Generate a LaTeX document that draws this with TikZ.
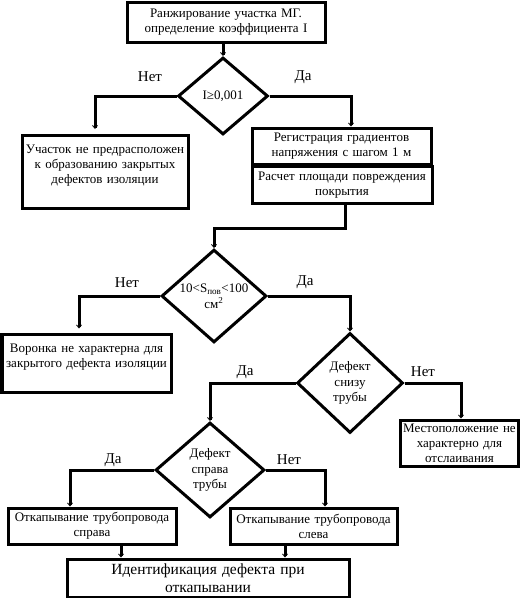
\documentclass[tikz,border=0pt]{standalone}
\usepackage{fontspec}
\setmainfont{Liberation Serif}
\usetikzlibrary{shapes, arrows.meta, calc, positioning}
\usetikzlibrary{shapes.geometric}

\begin{document}
\begin{tikzpicture}[x=1pt, y=-1pt, line width=3pt,
    blk/.style = {draw, rectangle, align=center, inner sep=1pt, font=\fontsize{13}{15}\selectfont},
    dec/.style = {draw, diamond, align=center, inner sep=0pt, font=\fontsize{13}{15.5}\selectfont},
    ans/.style = {font=\fontsize{15}{17}\selectfont},
    arr/.style = {-{Straight Barb[length=3pt,width=5pt,line width=0.8pt]}}]
    \useasboundingbox (0,0) rectangle (520,598);
    \node[blk, text width=196pt, minimum height=40pt] (B1) at (226,22) {Ранжирование участка МГ.\\ определение коэффициента I};
    \node[dec, minimum width=90pt, minimum height=77pt] (D1) at (223,96) {I≥0,001};
    \node[blk, text width=164pt, minimum height=73pt] (B2) at (105,172) {Участок не предрасположен\\ к образованию закрытых\\ дефектов изоляции\\ \mbox{}};
    \node[blk, text width=177pt, minimum height=36pt] (B3) at (341.5,146) {Регистрация градиентов\\ напряжения с шагом 1 м};
    \node[blk, text width=178pt, minimum height=37pt] (B4) at (342,185) {Расчет площади повреждения\\ покрытия};
    \node[dec, minimum width=105pt, minimum height=85pt] (D2) at (214,296) {10<S\textsubscript{пов}<100\\ см\textsuperscript{2}};
    \node[blk, text width=167pt, minimum height=58pt] (B5) at (86.5,363) {Воронка не характерна для\\ закрытого дефекта изоляции\\ \mbox{}};
    \node[dec, minimum width=106pt, minimum height=100pt] (D3) at (350,383) {Дефект\\ снизу\\ трубы};
    \node[blk, text width=116pt, minimum height=46pt] (B6) at (459.5,443) {Местоположение не\\ характерно для\\ отслаивания};
    \node[dec, minimum width=109pt, minimum height=95pt] (D4) at (210,470) {Дефект\\ справа\\ трубы};
    \node[blk, text width=166pt, minimum height=36pt] (B7) at (92,526) {Откапывание трубопровода\\ справа};
    \node[blk, text width=165pt, minimum height=36pt] (B8) at (313.5,526) {Откапывание трубопровода\\ слева};
    \node[blk, text width=280pt, minimum height=38pt, font=\fontsize{15.5}{18}\selectfont] (B9) at (208,578) {Идентификация дефекта при\\ откапывании};

    \node[ans] (L1) at (150,77) {Нет};
    \node[ans] (L2) at (303,77) {Да};
    \node[ans] (L3) at (127,283) {Нет};
    \node[ans] (L4) at (305,282) {Да};
    \node[ans] (L5) at (245,372) {Да};
    \node[ans] (L6) at (423,372) {Нет};
    \node[ans] (L7) at (113,460) {Да};
    \node[ans] (L8) at (289,460) {Нет};

    \draw[arr] (D1.north |- B1.south) -- (D1.north);
    \draw[arr, shorten >=5pt] (D1.west) -| ([xshift=-10pt]B2.north);
    \draw[arr] (D1.east) -| ([xshift=9.5pt]B3.north);
    \draw[arr] ([xshift=3pt]B4.south) -- ++(0,23) -| (D2.north);
    \draw[arr, shorten >=4pt] (D2.west) -| ([xshift=-7.5pt]B5.north);
    \draw[arr] (D2.east) -| (D3.north);
    \draw[arr] (D3.west) -| (D4.north);
    \draw[arr] (D3.east) -| ([xshift=1.5pt]B6.north);
    \draw[arr] (D4.west) -| ([xshift=-22pt]B7.north);
    \draw[arr] (D4.east) -| ([xshift=11.5pt]B8.north);
    \draw[arr] ([xshift=29pt]B7.south) -- ([xshift=29pt]B7.south |- B9.north);
    \draw[arr] ([xshift=-28.5pt]B8.south) -- ([xshift=-28.5pt]B8.south |- B9.north);
\end{tikzpicture}
\end{document}
